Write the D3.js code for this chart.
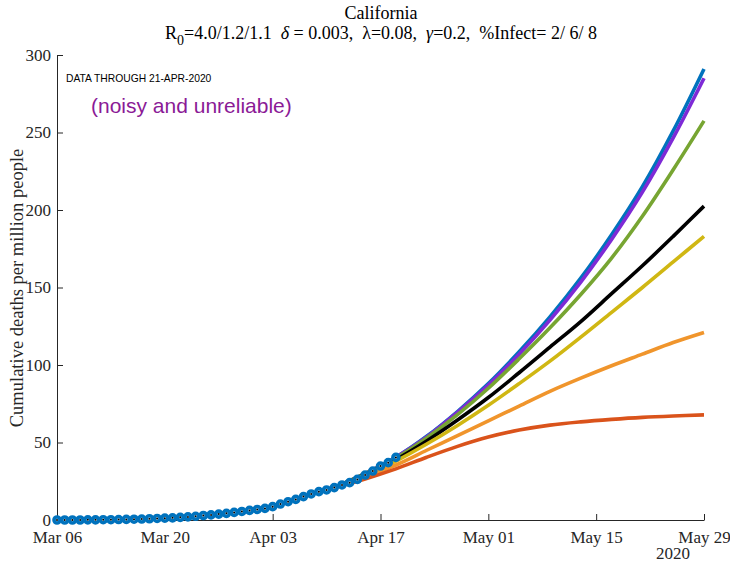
<!DOCTYPE html>
<html>
<head>
<meta charset="utf-8">
<script src="https://cdn.jsdelivr.net/npm/d3@7"></script>
<style>
  html, body { margin: 0; padding: 0; background: #fff; }
  svg { display: block; }
  .serif { font-family: "Liberation Serif", "Times New Roman", serif; }
  .sans { font-family: "Liberation Sans", Arial, Helvetica, sans-serif; }
</style>
</head>
<body>
<svg id="chart" width="730" height="563"></svg>
<script>
// Observed cumulative deaths per million, one value per day starting 2020-03-06
const obsStart = "2020-03-06";
const observed = [
  0, 0, 0, 0, 0.1, 0.1, 0.2, 0.2, 0.3, 0.4, 0.5,
  0.6, 0.8, 1.0, 1.2, 1.4, 1.7, 2.0, 2.4, 2.9, 3.3,
  3.8, 4.3, 4.9, 5.5, 6.2, 6.8,
  7.5, 8.6, 10.3, 11.8, 13.3, 15.1, 16.8, 18.3, 19.4, 20.9,
  22.6, 24.1, 26.2, 29.0, 31.6, 34.8, 37.0, 40.4
];

// Projection sample days (days after 2020-03-06) and scenario values
const projDays = [36, 40, 44, 48, 52, 56, 60, 64, 68, 72, 76, 80, 84];
const projBlue   = [21, 30, 40.5, 54, 70, 88, 108.5, 131, 156, 184, 215, 251, 291];
const projPurple = [21, 30, 40.5, 53.5, 69.5, 87, 107, 129, 153.5, 181, 211.5, 246.5, 285];
const projGreen  = [21, 30, 40, 53, 68, 85, 104, 124, 145.5, 169, 196, 226, 257.5];
const projBlack  = [21, 29.5, 39, 51, 64.5, 79, 95, 111.5, 128, 146, 164, 183, 202.5];
const projYellow = [21, 29, 38, 49, 61, 74, 88, 102.5, 118, 134, 150, 166.5, 183];
const projOrange = [21, 28, 35.5, 45, 54.5, 64, 73.5, 83, 91.5, 99.5, 107, 114.5, 121];
const projRed    = [21, 26.5, 33, 40.5, 47.5, 53.5, 58, 61.2, 63.3, 64.9, 66.2, 67.1, 67.8];

const xTickLabels = ["2020-03-06", "2020-03-20", "2020-04-03", "2020-04-17", "2020-05-01", "2020-05-15", "2020-05-29"];
const yTicks = [0, 50, 100, 150, 200, 250, 300];

const svg = d3.select("#chart");
const parse = d3.utcParse("%Y-%m-%d");
const t0 = parse(obsStart);
const dayToDate = d => d3.utcDay.offset(t0, d);

const x = d3.scaleUtc()
  .domain([parse("2020-03-06"), parse("2020-05-29")])
  .range([57, 704]);
const y = d3.scaleLinear().domain([0, 300]).range([520, 55]);

const axisColor = "#262626";

// Axes (ticks point inward)
const xAxis = d3.axisBottom(x)
  .tickValues(xTickLabels.map(parse))
  .tickFormat(d3.utcFormat("%b %d"))
  .tickSizeInner(-6).tickSizeOuter(0).tickPadding(11);
const gx = svg.append("g").attr("transform", "translate(0,520)").call(xAxis);

const yAxis = d3.axisLeft(y)
  .tickValues(yTicks)
  .tickSizeInner(-6).tickSizeOuter(0).tickPadding(6);
const gy = svg.append("g").attr("transform", "translate(57,0)").call(yAxis);

[gx, gy].forEach(g => {
  g.select(".domain").attr("stroke", axisColor).attr("stroke-width", 1);
  g.selectAll(".tick line").attr("stroke", axisColor).attr("stroke-width", 1);
  g.selectAll(".tick text")
    .attr("class", "serif")
    .attr("fill", axisColor)
    .style("font-size", "17px");
});
gx.selectAll(".tick text").attr("dy", "0.71em");
gy.selectAll(".tick text").attr("dy", "0.3em");

svg.append("text").attr("class", "serif")
  .attr("x", 690).attr("y", 559)
  .attr("text-anchor", "end").attr("fill", axisColor)
  .style("font-size", "17px").text("2020");

// Y label
svg.append("text").attr("class", "serif")
  .attr("transform", "translate(23,288) rotate(-90)")
  .attr("text-anchor", "middle").attr("fill", axisColor)
  .style("font-size", "18.5px")
  .text("Cumulative deaths per million people");

// Title
svg.append("text").attr("class", "serif")
  .attr("x", 381).attr("y", 19)
  .attr("text-anchor", "middle").attr("fill", "#000")
  .style("font-size", "18px").text("California");

const sub = svg.append("text").attr("class", "serif")
  .attr("x", 381).attr("y", 39)
  .attr("text-anchor", "middle").attr("fill", "#000")
  .style("font-size", "18px");
sub.append("tspan").text("R");
sub.append("tspan").attr("dy", 6).style("font-size", "14px").text("0");
sub.append("tspan").attr("dy", -6).text("=4.0/1.2/1.1\u00a0\u00a0");
sub.append("tspan").style("font-style", "italic").text("\u03b4");
sub.append("tspan").text(" = 0.003,\u00a0\u00a0\u03bb=0.08,\u00a0\u00a0");
sub.append("tspan").style("font-style", "italic").text("\u03b3");
sub.append("tspan").text("=0.2,\u00a0\u00a0%Infect= 2/ 6/ 8");

// Annotations
svg.append("text").attr("class", "sans")
  .attr("x", 66).attr("y", 82)
  .attr("fill", "#000").style("font-size", "10.3px")
  .text("DATA THROUGH 21-APR-2020");
svg.append("text").attr("class", "sans")
  .attr("x", 91).attr("y", 113)
  .attr("fill", "#8B1A96").style("font-size", "21px")
  .text("(noisy and unreliable)");

// Projection curves
const scenarios = [
  { vals: projBlue,   color: "#0072BD" },
  { vals: projPurple, color: "#7E2AD6" },
  { vals: projGreen,  color: "#77A532" },
  { vals: projBlack,  color: "#000000" },
  { vals: projYellow, color: "#D0B713" },
  { vals: projOrange, color: "#F0952C" },
  { vals: projRed,    color: "#DA531B" }
];
const line = d3.line()
  .x((v, i) => x(dayToDate(projDays[i])))
  .y(v => y(v))
  .curve(d3.curveCatmullRom.alpha(0.5));

svg.append("g").selectAll("path")
  .data(scenarios)
  .join("path")
  .attr("d", s => line(s.vals))
  .attr("fill", "none")
  .attr("stroke", s => s.color)
  .attr("stroke-width", 3.6);

// Observed markers
const pts = svg.append("g");
pts.selectAll("circle.ring")
  .data(observed)
  .join("circle")
  .attr("class", "ring")
  .attr("cx", (v, i) => x(dayToDate(i)))
  .attr("cy", v => y(v))
  .attr("r", 3)
  .attr("fill", "#fff")
  .attr("stroke", "#0072BD")
  .attr("stroke-width", 3.6);
pts.selectAll("circle.dot")
  .data(observed)
  .join("circle")
  .attr("class", "dot")
  .attr("cx", (v, i) => x(dayToDate(i)))
  .attr("cy", v => y(v))
  .attr("r", 1)
  .attr("fill", "#000");
</script>
</body>
</html>
